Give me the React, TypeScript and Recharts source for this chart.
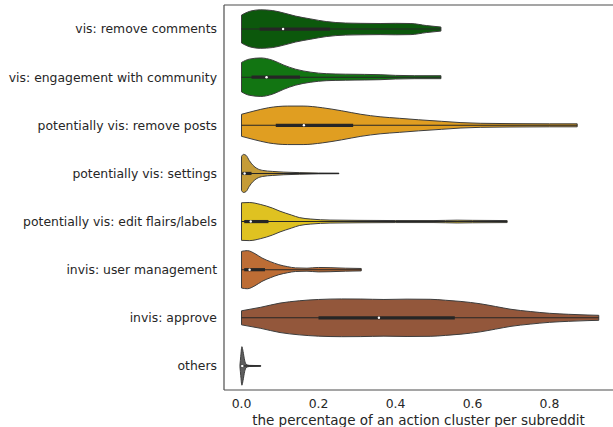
import React from "react";
import {
  ComposedChart,
  Area,
  Line,
  Scatter,
  XAxis,
  YAxis,
  ReferenceLine,
  Label,
} from "recharts";

const categories = [
  "vis: remove comments",
  "vis: engagement with community",
  "potentially vis: remove posts",
  "potentially vis: settings",
  "potentially vis: edit flairs/labels",
  "invis: user management",
  "invis: approve",
  "others",
];

const colors = ["#0c580c", "#127512", "#e09e21", "#c59c38", "#dfc221", "#bd6d35", "#93573b", "#5e5e5e"];

const xTicks = [0, 0.2, 0.4, 0.6, 0.8];

// violin profiles: [x value, half width in category units]
const removeComments: [number, number][] = [
  [0, 0.29], [0.02, 0.365], [0.05, 0.4], [0.08, 0.385], [0.11, 0.333], [0.14, 0.27],
  [0.18, 0.21], [0.22, 0.156], [0.27, 0.125], [0.31, 0.119], [0.36, 0.115], [0.4, 0.119],
  [0.44, 0.115], [0.48, 0.073], [0.518, 0.042],
];
const engagement: [number, number][] = [
  [0, 0.306], [0.02, 0.375], [0.05, 0.4], [0.08, 0.354], [0.11, 0.25], [0.14, 0.167],
  [0.18, 0.104], [0.22, 0.073], [0.27, 0.0625], [0.32, 0.058], [0.36, 0.052], [0.4, 0.0375],
  [0.45, 0.031], [0.518, 0.031],
];
const removePosts: [number, number][] = [
  [0, 0.229], [0.03, 0.292], [0.07, 0.365], [0.12, 0.4], [0.16, 0.4], [0.21, 0.365],
  [0.26, 0.302], [0.31, 0.229], [0.36, 0.177], [0.41, 0.146], [0.46, 0.115], [0.52, 0.083],
  [0.57, 0.056], [0.62, 0.042], [0.7, 0.035], [0.8, 0.031], [0.872, 0.031],
];
const settings: [number, number][] = [
  [0, 0.354], [0.005, 0.396], [0.012, 0.375], [0.02, 0.27], [0.03, 0.167], [0.04, 0.104],
  [0.055, 0.0625], [0.08, 0.042], [0.11, 0.027], [0.15, 0.017], [0.2, 0.008], [0.253, 0.006],
];
const editFlairs: [number, number][] = [
  [0, 0.39], [0.02, 0.396], [0.05, 0.354], [0.08, 0.281], [0.1, 0.215], [0.13, 0.135],
  [0.15, 0.083], [0.18, 0.052], [0.23, 0.031], [0.3, 0.025], [0.4, 0.021], [0.5, 0.021],
  [0.56, 0.029], [0.6, 0.025], [0.69, 0.021],
];
const userManagement: [number, number][] = [
  [0, 0.381], [0.015, 0.396], [0.035, 0.333], [0.053, 0.244], [0.075, 0.167], [0.097, 0.104],
  [0.12, 0.0625], [0.14, 0.0375], [0.17, 0.031], [0.2, 0.046], [0.23, 0.042], [0.27, 0.031],
  [0.311, 0.025],
];
const approve: [number, number][] = [
  [0, 0.146], [0.05, 0.219], [0.1, 0.306], [0.15, 0.354], [0.2, 0.381], [0.26, 0.392],
  [0.31, 0.39], [0.37, 0.381], [0.43, 0.388], [0.49, 0.385], [0.53, 0.365], [0.57, 0.34],
  [0.62, 0.292], [0.66, 0.235], [0.7, 0.177], [0.75, 0.131], [0.8, 0.094], [0.85, 0.073],
  [0.9, 0.058], [0.928, 0.052],
];
const others: [number, number][] = [
  [-0.004, 0.02], [-0.002, 0.2], [0.001, 0.4], [0.004, 0.3], [0.008, 0.12], [0.012, 0.035],
  [0.02, 0.012], [0.05, 0.006],
];

const profiles = [removeComments, engagement, removePosts, settings, editFlairs, userManagement, approve, others];

// inner box statistics
const q1 = [0.047, 0.026, 0.089, 0.002, 0.007, 0.007, 0.2, 0];
const q3 = [0.23, 0.152, 0.29, 0.026, 0.07, 0.061, 0.554, 0.004];
const medians = [0.108, 0.065, 0.162, 0.008, 0.024, 0.021, 0.357, 0.002];
const whiskerLo = [0, 0, 0, 0, 0, 0, 0, 0];
const whiskerHi = [0.518, 0.518, 0.872, 0.253, 0.69, 0.311, 0.928, 0.05];

const X_DOMAIN: [number, number] = [-0.0455, 0.965];
const Y_DOMAIN: [number, number] = [-0.5, 7.5];

const FONT = "'DejaVu Sans', sans-serif";
const TEXT = "#262626";
const OUTLINE = "#3d3d3d";
const SPINE = "#4d4d4d";

export default function App() {
  const medianData = medians.map((m, i) => ({ x: m, y: i }));
  return (
    <div style={{ position: "absolute", left: 0, top: 0, width: 613, height: 427, background: "#fff" }}>
      <ComposedChart width={613} height={427} margin={{ top: 5, right: 0, left: 0, bottom: 0 }}>
        <XAxis
          type="number"
          dataKey="x"
          domain={X_DOMAIN}
          ticks={xTicks}
          tickFormatter={(v: number) => v.toFixed(1)}
          allowDataOverflow
          axisLine={false}
          tickLine={false}
          tickSize={0}
          tickMargin={9}
          height={37}
          tick={{ fill: TEXT, fontSize: 12.4, fontFamily: FONT }}
        >
          <Label
            value="the percentage of an action cluster per subreddit"
            position="insideBottom"
            offset={2}
            style={{ fill: TEXT, fontSize: 13.5, fontFamily: FONT }}
          />
        </XAxis>
        <YAxis
          type="number"
          dataKey="y"
          domain={Y_DOMAIN}
          reversed
          allowDataOverflow
          ticks={categories.map((_, i) => i)}
          interval={0}
          tickFormatter={(v: number) => categories[v] ?? ""}
          width={224}
          axisLine={false}
          tickLine={false}
          tickSize={0}
          tickMargin={7}
          tick={{ fill: TEXT, fontSize: 12.4, fontFamily: FONT }}
        />
        <ReferenceLine y={Y_DOMAIN[0]} stroke={SPINE} strokeWidth={1.2} />
        <ReferenceLine y={Y_DOMAIN[1]} stroke={SPINE} strokeWidth={1.2} />
        <ReferenceLine x={X_DOMAIN[0]} stroke={SPINE} strokeWidth={1.2} />
        {profiles.map((p, i) => (
          <Area
            key={"v" + i}
            data={p.map(([x, w]) => ({ x, range: [i - w, i + w] }))}
            dataKey="range"
            type="monotone"
            fill={colors[i]}
            fillOpacity={1}
            stroke={OUTLINE}
            strokeWidth={1}
            dot={false}
            activeDot={false}
            isAnimationActive={false}
          />
        ))}
        {profiles.map((p, i) => (
          <ReferenceLine
            key={"s" + i}
            segment={[{ x: p[0][0], y: i - p[0][1] }, { x: p[0][0], y: i + p[0][1] }]}
            stroke={OUTLINE}
            strokeWidth={1}
          />
        ))}
        {profiles.map((p, i) => (
          <ReferenceLine
            key={"e" + i}
            segment={[
              { x: p[p.length - 1][0], y: i - p[p.length - 1][1] },
              { x: p[p.length - 1][0], y: i + p[p.length - 1][1] },
            ]}
            stroke={OUTLINE}
            strokeWidth={1}
          />
        ))}
        {categories.map((_, i) => (
          <Line
            key={"w" + i}
            data={[{ x: whiskerLo[i], y: i }, { x: whiskerHi[i], y: i }]}
            dataKey="y"
            stroke="#262626"
            strokeWidth={1.1}
            dot={false}
            activeDot={false}
            isAnimationActive={false}
          />
        ))}
        {categories.map((_, i) => (
          <Line
            key={"b" + i}
            data={[{ x: q1[i], y: i }, { x: q3[i], y: i }]}
            dataKey="y"
            stroke="#262626"
            strokeWidth={3.2}
            dot={false}
            activeDot={false}
            isAnimationActive={false}
          />
        ))}
        <Scatter
          data={medianData}
          dataKey="y"
          isAnimationActive={false}
          shape={(props: any) => <circle cx={props.cx} cy={props.cy} r={1.2} fill="#ffffff" />}
        />
      </ComposedChart>
    </div>
  );
}
